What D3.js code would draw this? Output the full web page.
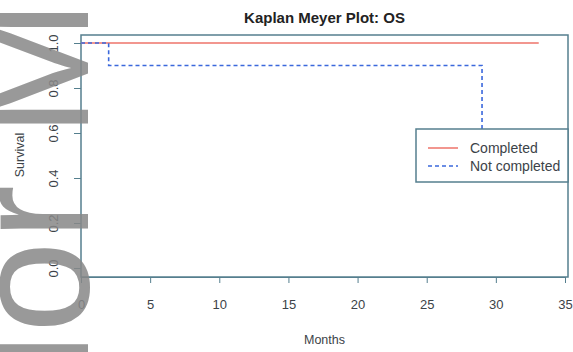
<!DOCTYPE html>
<html>
<head>
<meta charset="utf-8">
<script src="https://cdn.jsdelivr.net/npm/d3@7"></script>
<style>
  body { margin: 0; background: #fff; }
  svg { display: block; font-family: "Liberation Sans", Arial, sans-serif; }
</style>
</head>
<body>
<svg id="chart" width="573" height="352"></svg>
<script>
// survival curves
const completedTime = [0, 33.1];
const completedSurv = [1.0, 1.0];
const notCompletedTime = [0, 2, 29];
const notCompletedSurv = [1.0, 0.9, 0.6];

const xTicks = [0, 5, 10, 15, 20, 25, 30, 35];
const yTicks = [0, 0.2, 0.4, 0.6, 0.8, 1.0];
const legendLabels = ["Completed", "Not completed"];

const boxCol = "#557f8e";
const textCol = "#3c4348";
const redCol = "#f2968f";
const blueCol = "#3b68dc";

const svg = d3.select("#chart");

const box = { left: 81, right: 568, top: 35, bottom: 277 };

const x = d3.scaleLinear().domain([0, 35]).range([81, 565]);
const y = d3.scaleLinear().domain([0, 1]).range([268, 43]);

// title
svg.append("text")
  .attr("x", (box.left + box.right) / 2)
  .attr("y", 22.5)
  .attr("text-anchor", "middle")
  .style("font-weight", "bold")
  .style("font-size", "15px")
  .attr("fill", "#222")
  .text("Kaplan Meyer Plot: OS");

// x axis
const xAxis = svg.append("g")
  .attr("transform", "translate(0," + box.bottom + ")")
  .call(d3.axisBottom(x).tickValues(xTicks).tickSize(6).tickPadding(17).tickFormat(d3.format("d")));
xAxis.select(".domain").attr("stroke", boxCol);
xAxis.selectAll(".tick line").attr("stroke", boxCol);
xAxis.selectAll("text").attr("fill", textCol).style("font-size", "13px").style("font-family", "Liberation Sans, Arial, sans-serif");

// y axis, labels turned like in R
const yAxis = svg.append("g")
  .attr("transform", "translate(" + box.left + ",0)")
  .call(d3.axisLeft(y).tickValues(yTicks).tickSize(7).tickFormat(d3.format(".1f")));
yAxis.select(".domain").remove();
yAxis.selectAll(".tick line").attr("stroke", boxCol);
yAxis.selectAll(".tick text")
  .attr("x", 0)
  .attr("text-anchor", "middle")
  .attr("transform", "translate(-28,0) rotate(-90)")
  .attr("dy", "0.35em")
  .attr("fill", textCol)
  .style("font-size", "13px")
  .style("font-family", "Liberation Sans, Arial, sans-serif");

// plot box
svg.append("rect")
  .attr("x", box.left).attr("y", box.top)
  .attr("width", box.right - box.left).attr("height", box.bottom - box.top)
  .attr("fill", "none").attr("stroke", boxCol).attr("stroke-width", 1.5);

// axis titles
svg.append("text")
  .attr("x", (box.left + box.right) / 2).attr("y", 344)
  .attr("text-anchor", "middle")
  .style("font-size", "12.5px").attr("fill", textCol)
  .text("Months");

svg.append("text")
  .attr("transform", "translate(24,155) rotate(-90)")
  .attr("text-anchor", "middle")
  .style("font-size", "12.5px").attr("fill", textCol)
  .text("Survival");

// curves
const line = d3.line().curve(d3.curveStepAfter).x(d => x(d[0])).y(d => y(d[1]));

svg.append("path")
  .datum(d3.zip(completedTime, completedSurv))
  .attr("d", line)
  .attr("fill", "none").attr("stroke", redCol).attr("stroke-width", 2);

svg.append("path")
  .datum(d3.zip(notCompletedTime, notCompletedSurv))
  .attr("d", line)
  .attr("fill", "none").attr("stroke", blueCol).attr("stroke-width", 1.6)
  .attr("stroke-dasharray", "4,3");

// legend
const lg = svg.append("g");
lg.append("rect")
  .attr("x", 416).attr("y", 129).attr("width", 152).attr("height", 53)
  .attr("fill", "#fff").attr("stroke", boxCol).attr("stroke-width", 1.5);
const legendStyles = [
  { col: redCol, dash: null, w: 2 },
  { col: blueCol, dash: "4,3", w: 1.6 }
];
legendLabels.forEach((lab, i) => {
  const ly = 148 + i * 18;
  lg.append("line")
    .attr("x1", 428).attr("x2", 458).attr("y1", ly).attr("y2", ly)
    .attr("stroke", legendStyles[i].col).attr("stroke-width", legendStyles[i].w)
    .attr("stroke-dasharray", legendStyles[i].dash);
  lg.append("text")
    .attr("x", 470).attr("y", ly).attr("dy", "0.35em")
    .style("font-size", "14px").attr("fill", textCol)
    .text(lab);
});

// grey watermark letters on the left edge
const wm = svg.append("g").attr("fill", "#888").attr("opacity", 0.85)
  .style("font-size", "165px").style("font-family", "Liberation Sans, Arial, sans-serif");
[["M", 137], ["r", 240], ["o", 333], ["N", 450]].forEach(([ch, yy]) => {
  wm.append("text")
    .attr("transform", "translate(88," + yy + ") rotate(-90)")
    .text(ch);
});
</script>
</body>
</html>
